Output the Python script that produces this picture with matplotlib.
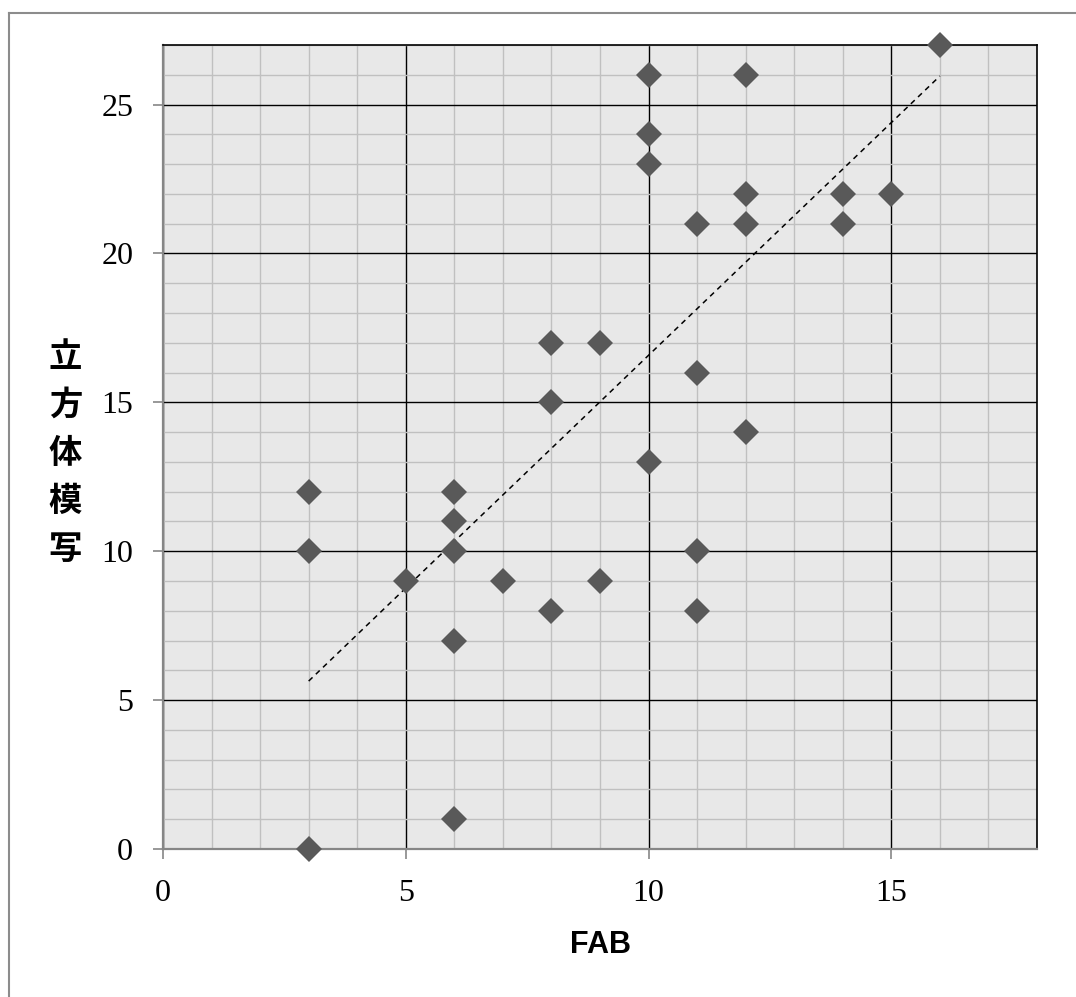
import numpy as np
import matplotlib
matplotlib.use("Agg")
import matplotlib.pyplot as plt
from matplotlib.lines import Line2D

# Data
fab = [3, 3, 3, 5, 6, 6, 6, 6, 6, 7, 8, 8, 8, 9, 9, 10, 10, 10, 10,
       11, 11, 11, 11, 12, 12, 12, 12, 14, 14, 15, 16]
cube = [0, 10, 12, 9, 1, 7, 10, 11, 12, 9, 8, 15, 17, 9, 17, 13, 23, 24, 26,
        8, 10, 16, 21, 14, 21, 22, 26, 21, 22, 22, 27]
# linear trend line: slope, intercept
trend_slope = 1.563
trend_intercept = 0.95
x_ticks = [0, 5, 10, 15]
y_ticks = [0, 5, 10, 15, 20, 25]
x_label = "FAB"
y_label = "立方体模写"

W, H = 1076, 997
fig = plt.figure(figsize=(W / 100, H / 100), dpi=100)
fig.patch.set_facecolor("white")

ax = fig.add_axes([163 / W, 1 - 849 / H, (1037 - 163) / W, (849 - 45) / H])
ax.set_facecolor("#e8e8e8")
ax.set_xlim(0, 18)
ax.set_ylim(0, 27)

ax.set_xticks(x_ticks)
ax.set_yticks(y_ticks)
ax.set_xticks(np.arange(0, 19, 1), minor=True)
ax.set_yticks(np.arange(0, 28, 1), minor=True)

ax.grid(which="minor", color="#c0c0c0", linewidth=1.0, zorder=0)
ax.grid(which="major", color="black", linewidth=1.0, zorder=1)
ax.set_axisbelow(True)

ax.tick_params(which="minor", length=0)
ax.tick_params(which="major", direction="out", length=7.5, width=1.2,
               color="#868686", pad=14)
for lbl in ax.get_xticklabels() + ax.get_yticklabels():
    lbl.set_fontfamily("Liberation Serif")
    lbl.set_fontsize(23)

for side in ["left", "bottom"]:
    ax.spines[side].set_color("#868686")
    ax.spines[side].set_linewidth(1.6)
for side in ["top", "right"]:
    ax.spines[side].set_color("black")
    ax.spines[side].set_linewidth(1.2)

# trend line over the data range
xs = np.array([min(fab), max(fab)])
ax.plot(xs, trend_slope * xs + trend_intercept, color="black", linewidth=1.1,
        linestyle=(0, (3.5, 3)), zorder=3)

ax.plot(fab, cube, linestyle="none", marker="D", markersize=13,
        color="#595959", markeredgewidth=0, zorder=4, clip_on=False)

# axis titles
fig.text(600 / W, 1 - 945 / H, x_label, fontsize=22, fontweight="bold",
         family="Liberation Sans", ha="center", va="center")
centers = [357, 405, 453, 501, 549]
for ch, cy in zip(y_label, centers):
    fig.text(65.5 / W, 1 - cy / H, ch, fontsize=24, fontweight="bold",
             family="Noto Sans CJK JP", ha="center", va="center")

# outer frame (top and left visible)
fig.add_artist(Line2D([9 / W, 9 / W], [0, 1 - 13 / H], color="#8c8c8c",
                      linewidth=1.5, transform=fig.transFigure))
fig.add_artist(Line2D([9 / W, 1], [1 - 13 / H, 1 - 13 / H], color="#8c8c8c",
                      linewidth=1.5, transform=fig.transFigure))

fig.savefig("out.png", dpi=100)
